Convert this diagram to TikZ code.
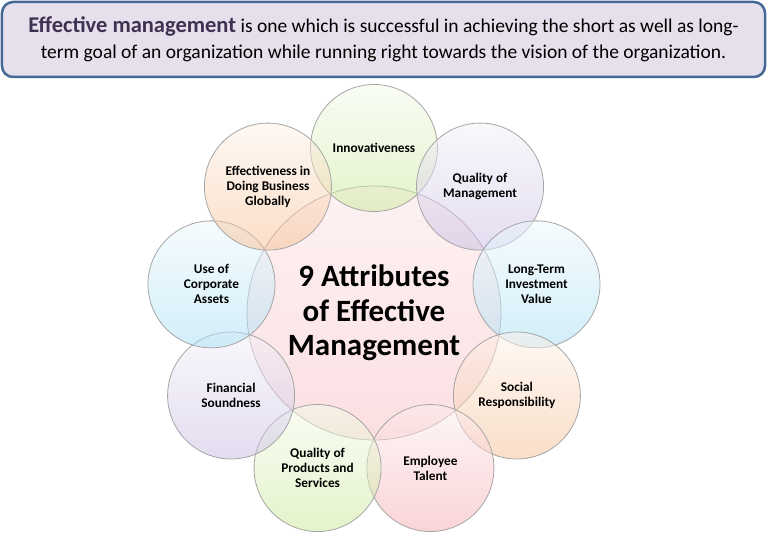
\documentclass[tikz,border=0pt]{standalone}
\usepackage{fontspec}
\setmainfont{Carlito}

\definecolor{headfill}{RGB}{230,224,236}
\definecolor{headline}{RGB}{70,104,150}
\definecolor{headtitle}{RGB}{64,49,82}
\definecolor{ringline}{RGB}{165,165,165}
\definecolor{cgreen}{RGB}{200,232,150}
\definecolor{cpurple}{RGB}{200,186,226}
\definecolor{cblue}{RGB}{165,222,245}
\definecolor{corange}{RGB}{246,190,145}
\definecolor{cred}{RGB}{246,170,176}

\begin{document}
\begin{tikzpicture}[x=1pt, y=1pt,
    attr/.style={circle, minimum size=127pt, inner sep=0pt, draw=ringline, line width=0.8pt,
      top color=#1!20, bottom color=#1, fill opacity=0.5, text opacity=1,
      align=center, font=\bfseries\fontsize{13.3}{15}\selectfont},
    hub/.style={circle, minimum size=254pt, inner sep=0pt, draw=ringline, line width=0.8pt,
      top color=cred!30, bottom color=cred!75, fill opacity=0.5, text opacity=1,
      align=center, font=\bfseries\fontsize{31}{34.5}\selectfont}]
  \useasboundingbox (-374,313) rectangle (394,-222);

  % heading box
  \node (head) [draw=headline, line width=2.5pt, fill=headfill, rounded corners=11pt,
    minimum width=763pt, minimum height=75pt, align=center,
    font=\fontsize{19.5}{26.5}\selectfont] at (9.5,273.5)
    {{\fontsize{22.5}{26.5}\selectfont\textcolor{headtitle}{\textbf{Effective management}}} is one which is successful in achieving the short as well as long-\\
     term goal of an organization while running right towards the vision of the organization.};

  % centre and the nine attributes
  \node (M) [hub] at (0,0) {9 Attributes\\of Effective\\Management};

  \node (A1) [attr=cgreen] at (90:165) {Innovativeness};
  \node (A2) [attr=cpurple] at (50:165) {Quality of\\Management};
  \node (A3) [attr=cblue] at (10:165) {Long-Term\\Investment\\Value};
  \node (A4) [attr=corange] at (-30:165) {Social\\Responsibility};
  \node (A5) [attr=cred] at (-70:165) {Employee\\Talent};
  \node (A6) [attr=cgreen] at (-110:165) {Quality of\\Products and\\Services};
  \node (A7) [attr=cpurple] at (-150:165) {Financial\\Soundness};
  \node (A8) [attr=cblue] at (170:165) {Use of\\Corporate\\Assets};
  \node (A9) [attr=corange] at (130:165) {Effectiveness in\\Doing Business\\Globally};
\end{tikzpicture}
\end{document}
